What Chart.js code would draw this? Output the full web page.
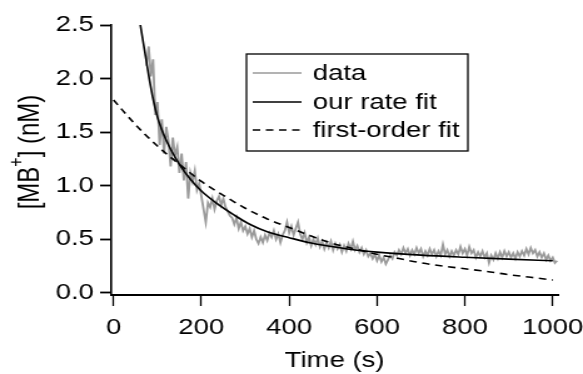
<!DOCTYPE html>
<html>
<head>
<meta charset="utf-8">
<script src="https://cdn.jsdelivr.net/npm/chart.js@4"></script>
<style>
  body { margin: 0; background: #fff; }
</style>
</head>
<body>
<!-- the reference glyphs are wider than tall, so the canvas is drawn narrow and stretched -->
<canvas id="c" width="466" height="374" style="width:583px;height:374px;display:block"></canvas>
<script>
const xTicks = [0, 200, 400, 600, 800, 1000];
const yTicks = [0, 0.5, 1.0, 1.5, 2.0, 2.5];
const seriesNames = ['data', 'our rate fit', 'first-order fit'];

// measured trace, one reading every 5 s starting at 75 s
const dataStart = 75;
const dataStep = 5;
const dataValues = [
  2.12, 2.30, 2.02, 2.18, 1.66, 1.78, 1.38, 1.62, 1.30, 1.55,
  1.42, 1.18, 1.45, 1.28, 1.36, 1.12, 1.30, 1.05, 1.22, 0.88,
  1.12, 1.04, 1.14, 0.96, 1.02, 0.90, 0.78, 0.66, 0.84, 0.80,
  0.88, 0.78, 0.86, 0.90, 0.82, 0.88, 0.80, 0.76, 0.72, 0.70,
  0.64, 0.70, 0.60, 0.66, 0.58, 0.62, 0.55, 0.60, 0.52, 0.58,
  0.50, 0.46, 0.52, 0.47, 0.54, 0.49, 0.56, 0.52, 0.58, 0.50,
  0.55, 0.47, 0.54, 0.58, 0.66, 0.56, 0.62, 0.54, 0.60, 0.66,
  0.55, 0.50, 0.56, 0.47, 0.52, 0.44, 0.50, 0.45, 0.51, 0.43,
  0.48, 0.41, 0.47, 0.42, 0.48, 0.40, 0.46, 0.41, 0.45, 0.38,
  0.44, 0.39, 0.46, 0.41, 0.48, 0.40, 0.44, 0.38, 0.42, 0.36,
  0.40, 0.34, 0.37, 0.32, 0.36, 0.30, 0.35, 0.29, 0.33, 0.27,
  0.31, 0.35, 0.32, 0.38, 0.35, 0.40, 0.36, 0.42, 0.37, 0.41,
  0.35, 0.40, 0.36, 0.42, 0.37, 0.41, 0.34, 0.39, 0.35, 0.41,
  0.36, 0.40, 0.34, 0.39, 0.35, 0.45, 0.36, 0.40, 0.34, 0.39,
  0.35, 0.40, 0.36, 0.43, 0.37, 0.41, 0.35, 0.43, 0.37, 0.40,
  0.33, 0.38, 0.34, 0.39, 0.33, 0.37, 0.28, 0.35, 0.31, 0.37,
  0.32, 0.38, 0.33, 0.39, 0.34, 0.38, 0.33, 0.37, 0.32, 0.38,
  0.34, 0.39, 0.35, 0.41, 0.36, 0.42, 0.37, 0.40, 0.34, 0.38,
  0.33, 0.37, 0.31, 0.35, 0.30, 0.33, 0.28, 0.30
];

const rateFitT = [61, 70, 80, 90, 100, 115, 130, 150, 175, 200, 235, 275, 310, 350, 400, 450, 500, 550, 600, 700, 800, 900, 1000];
const rateFitV = [2.50, 2.28, 2.03, 1.81, 1.64, 1.47, 1.34, 1.20, 1.06, 0.95, 0.835, 0.725, 0.64, 0.57, 0.515, 0.465, 0.43, 0.40, 0.38, 0.352, 0.332, 0.315, 0.30];

const firstFitT = [0, 50, 100, 150, 200, 250, 300, 350, 400, 450, 500, 550, 600, 650, 700, 750, 800, 850, 900, 950, 1000];
const firstFitV = [1.80, 1.57, 1.37, 1.20, 1.04, 0.91, 0.79, 0.69, 0.61, 0.53, 0.46, 0.41, 0.36, 0.32, 0.28, 0.25, 0.225, 0.20, 0.17, 0.145, 0.12];

const FONT = '"Liberation Sans", Arial, Helvetica, sans-serif';

const dataPoints = dataValues.map((v, i) => ({ x: dataStart + i * dataStep, y: v }));
const ratePoints = rateFitT.map((t, i) => ({ x: t, y: rateFitV[i] }));
const firstPoints = firstFitT.map((t, i) => ({ x: t, y: firstFitV[i] }));

const titlesAndLegend = {
  id: 'titlesAndLegend',
  afterDraw(chart) {
    const ctx = chart.ctx;
    const area = chart.chartArea;
    ctx.save();
    ctx.fillStyle = '#000';

    // x axis title
    ctx.font = '22px ' + FONT;
    ctx.textAlign = 'center';
    ctx.textBaseline = 'alphabetic';
    ctx.fillText('Time (s)', (area.left + area.right) / 2, 367);

    // y axis title with superscript +
    ctx.save();
    ctx.translate(24, 152);
    ctx.rotate(-Math.PI / 2);
    const big = '24px ' + FONT;
    const small = '16px ' + FONT;
    ctx.font = big;
    const w1 = ctx.measureText('[MB').width;
    const w3 = ctx.measureText('] (nM)').width;
    ctx.font = small;
    const w2 = ctx.measureText('+').width;
    let x = -(w1 + w2 + w3) / 2;
    ctx.textAlign = 'left';
    ctx.textBaseline = 'middle';
    ctx.font = big;
    ctx.fillText('[MB', x, 0);
    x += w1;
    ctx.font = small;
    ctx.fillText('+', x, -10);
    x += w2;
    ctx.font = big;
    ctx.fillText('] (nM)', x, 0);
    ctx.restore();

    // legend box
    const bx = 197, by = 54, bw = 177, bh = 97;
    ctx.lineWidth = 1.3;
    ctx.strokeStyle = '#000';
    ctx.strokeRect(bx, by, bw, bh);
    const rows = [73, 102, 130];
    ctx.font = '22px ' + FONT;
    ctx.textAlign = 'left';
    ctx.textBaseline = 'middle';
    chart.data.datasets.forEach((ds, i) => {
      ctx.save();
      ctx.strokeStyle = ds.borderColor;
      ctx.lineWidth = Math.min(ds.borderWidth, 1.6);
      ctx.setLineDash(ds.borderDash || []);
      ctx.beginPath();
      ctx.moveTo(202, rows[i]);
      ctx.lineTo(241, rows[i]);
      ctx.stroke();
      ctx.restore();
      ctx.fillText(ds.label, 250, rows[i] + 1);
    });
    ctx.restore();
  }
};

new Chart(document.getElementById('c'), {
  type: 'line',
  data: {
    datasets: [
      {
        label: seriesNames[0],
        data: dataPoints,
        borderColor: '#9a9a9a',
        borderWidth: 1.8,
        pointRadius: 0,
        tension: 0,
        order: 3
      },
      {
        label: seriesNames[1],
        data: ratePoints,
        borderColor: '#000',
        borderWidth: 1.6,
        pointRadius: 0,
        cubicInterpolationMode: 'monotone',
        order: 1
      },
      {
        label: seriesNames[2],
        data: firstPoints,
        borderColor: '#000',
        borderWidth: 1.6,
        borderDash: [6, 4.5],
        pointRadius: 0,
        cubicInterpolationMode: 'monotone',
        order: 2
      }
    ]
  },
  options: {
    responsive: false,
    devicePixelRatio: 1,
    animation: false,
    layout: { padding: { left: 29, right: 20, top: 25, bottom: 0 } },
    plugins: {
      legend: { display: false },
      tooltip: { enabled: false }
    },
    scales: {
      x: {
        type: 'linear',
        min: -5,
        max: 1012,
        afterBuildTicks: (scale) => { scale.ticks = xTicks.map(v => ({ value: v })); },
        afterFit: (scale) => {
          scale.height = 79;
          scale.paddingLeft = 0; scale.paddingRight = 0;
        },
        grid: {
          drawOnChartArea: false,
          drawTicks: true,
          tickLength: 11,
          tickWidth: 1.3,
          tickColor: '#000'
        },
        border: { display: true, color: '#000', width: 2 },
        ticks: {
          color: '#000',
          padding: 9,
          maxRotation: 0,
          autoSkip: false,
          font: { family: FONT, size: 22 },
          callback: (v) => String(v)
        }
      },
      y: {
        type: 'linear',
        min: -0.02,
        max: 2.5,
        afterBuildTicks: (scale) => { scale.ticks = yTicks.map(v => ({ value: v })); },
        afterFit: (scale) => {
          scale.width = 60;
          scale.paddingTop = 0; scale.paddingBottom = 0;
        },
        grid: {
          drawOnChartArea: false,
          drawTicks: true,
          tickLength: 9,
          tickWidth: 1.8,
          tickColor: '#000'
        },
        border: { display: true, color: '#000', width: 1.6 },
        ticks: {
          color: '#000',
          padding: 5,
          autoSkip: false,
          font: { family: FONT, size: 22 },
          callback: (v) => Number(v).toFixed(1)
        }
      }
    }
  },
  plugins: [titlesAndLegend]
});
</script>
</body>
</html>
